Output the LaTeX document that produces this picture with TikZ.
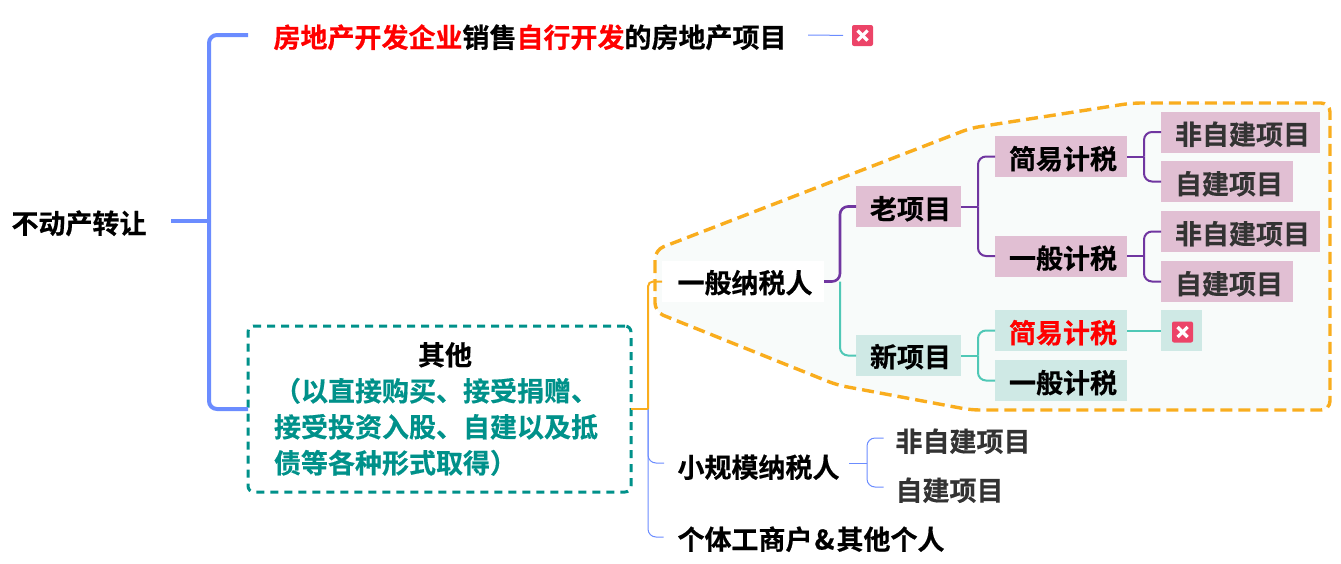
\documentclass[tikz,border=0pt]{standalone}
\usepackage{fontspec}
\setmainfont{Noto Sans CJK SC}[BoldFont={Noto Sans CJK SC Bold},BoldFeatures={FakeBold=0.5}]
\definecolor{rootblue}{HTML}{6B8CFF}
\definecolor{thinblue}{HTML}{6B8CFF}
\definecolor{purp}{HTML}{7036A0}
\definecolor{pinkbox}{HTML}{E1BFD3}
\definecolor{tealline}{HTML}{50C8B6}
\definecolor{tealbox}{HTML}{CFE9E5}
\definecolor{orangeln}{HTML}{F9AD1E}
\definecolor{blobfill}{HTML}{F8FBFA}
\definecolor{deepteal}{HTML}{00918A}
\definecolor{iconred}{HTML}{EC4468}
\definecolor{darktxt}{HTML}{333333}
\tikzset{
  lab/.style={inner sep=0pt,outer sep=0pt,align=center,font=\fontsize{27}{36}\selectfont\bfseries,text height=23pt,text depth=4pt},
  pinkn/.style={lab,fill=pinkbox,minimum height=41pt},
  tealn/.style={lab,fill=tealbox,minimum height=41pt},
  lnroot/.style={draw=rootblue,line width=4pt,rounded corners=8pt},
  lnpurp/.style={draw=purp,line width=2pt,rounded corners=8pt},
  lnteal/.style={draw=tealline,line width=2pt,rounded corners=8pt},
  lnorange/.style={draw=orangeln,line width=2pt,rounded corners=5pt},
  lnthin/.style={draw=thinblue,line width=1pt,rounded corners=8pt},
  iconbox/.style={fill=iconred,rounded corners=2pt,minimum width=21pt,minimum height=21pt,inner sep=0pt,outer sep=0pt},
  crossx/.style={draw=white,line width=3.2pt},
}
\newcommand{\dn}[2][3pt]{\hspace*{4pt}\raisebox{-#1}{#2}}
\begin{document}
\begin{tikzpicture}[x=1pt,y=-1pt]
\useasboundingbox (0,0) rectangle (1341,563);
% region
\draw[fill=blobfill,draw=orangeln,line width=3.4pt,dash pattern=on 12pt off 6pt,rounded corners=9pt]
  (655,281) -- (655,250) -- (971,128) -- (1132,103) -- (1330,103) -- (1330,410) -- (971,410) -- (837,385) -- (655,312) -- cycle;
% nodes
\node[lab,minimum width=184pt,minimum height=30pt] (root) at (79,221) {\raisebox{-3pt}{不动产转让}};
\node[lab,minimum width=560pt,minimum height=36pt] (top) at (528,35) {\dn{\textcolor{red}{房地产开发企业}销售\textcolor{red}{自行开发}的房地产项目}};
\node[iconbox] (icona) at (862.5,35.5) {};
\node[draw=deepteal,line width=3pt,dash pattern=on 8pt off 6pt,rounded corners=6pt,inner sep=0pt,outer sep=0pt,minimum width=383pt,minimum height=166pt,text width=383pt,align=left,font=\fontsize{27}{36}\selectfont\bfseries,text=deepteal] (other) at (439.5,409)
  {\raisebox{-2pt}{\hspace*{170pt}\textcolor{black}{其他}}\\\raisebox{-2pt}{\hspace*{26pt}（以直接购买、接受捐赠、}\\\raisebox{-2pt}{\hspace*{26pt}接受投资入股、自建以及抵}\\\raisebox{-2pt}{\hspace*{26pt}债等各种形式取得）}};
\node[lab,fill=white,minimum width=162pt,minimum height=41pt] (gen) at (743,281.5) {\dn[2pt]{一般纳税人}};
\node[pinkn,minimum width=105pt] (old) at (908.5,206.5) {\dn{老项目}};
\node[pinkn,minimum width=132pt] (s1) at (1061,156.5) {\dn{简易计税}};
\node[pinkn,minimum width=132pt] (g1) at (1061,256) {\dn{一般计税}};
\node[pinkn,minimum width=159pt,text=darktxt] (n1) at (1240.5,132) {\dn{非自建项目}};
\node[pinkn,minimum width=132pt,text=darktxt] (z1) at (1227,181.5) {\dn{自建项目}};
\node[pinkn,minimum width=159pt,text=darktxt] (n2) at (1240.5,231.5) {\dn{非自建项目}};
\node[pinkn,minimum width=132pt,text=darktxt] (z2) at (1227,281.5) {\dn{自建项目}};
\node[tealn,minimum width=105pt] (new) at (908.5,355.5) {\dn[2pt]{新项目}};
\node[tealn,minimum width=132pt,text=red] (s2) at (1061,330.5) {\dn{简易计税}};
\node[tealn,minimum width=132pt] (g2) at (1061,380.5) {\dn{一般计税}};
\node[fill=tealbox,inner sep=0pt,outer sep=0pt,minimum width=41pt,minimum height=41pt] (iconb) at (1181.5,330.5) {};
\node[iconbox] (iconc) at (1182.5,332) {};
\node[lab,minimum width=185pt,minimum height=30pt] (small) at (756.5,463) {\dn[5pt]{小规模纳税人}};
\node[lab,minimum width=146pt,minimum height=30pt,text=darktxt] (n3) at (957,438) {\hspace*{12pt}\raisebox{-4pt}{非自建项目}};
\node[lab,minimum width=119pt,minimum height=30pt,text=darktxt] (z3) at (943.5,487) {\hspace*{12pt}\raisebox{-4pt}{自建项目}};
\node[lab,minimum width=280pt,minimum height=30pt] (indiv) at (804,537) {\hspace*{14pt}\raisebox{-3pt}{个体工商户\kern2pt\&\kern2pt其他个人}};
% icon crosses
\draw[crossx] ([shift={(5.5,5.5)}]icona.north west) -- ([shift={(-5.5,-5.5)}]icona.south east);
\draw[crossx] ([shift={(5.5,-5.5)}]icona.south west) -- ([shift={(-5.5,5.5)}]icona.north east);
\draw[crossx] ([shift={(5.5,5.5)}]iconc.north west) -- ([shift={(-5.5,-5.5)}]iconc.south east);
\draw[crossx] ([shift={(5.5,-5.5)}]iconc.south west) -- ([shift={(-5.5,5.5)}]iconc.north east);
% connectors
\draw[lnroot] (root.east) -- ++(38,0);
\draw[lnroot] (root.east) ++(38,0) |- (top.west);
\draw[lnroot] (root.east) ++(38,0) |- (other.west);
\draw[draw=thinblue,line width=1pt,shorten >=9pt] (top.east) -- (icona.west);
\draw[lnthin] (other.east) ++(17,0) |- (small.west);
\draw[lnthin] (other.east) ++(17,0) |- (indiv.west);
\draw[lnorange] (other.east) -- ++(17,0);
\draw[lnorange,line cap=square] (other.east) ++(17,0) |- (gen.west);
\draw[lnthin] (small.east) -- ++(18,0);
\draw[lnthin] (small.east) ++(18,0) |- (n3.west);
\draw[lnthin] (small.east) ++(18,0) |- (z3.west);
\draw[lnteal] (gen.east) ++(16,0) |- (new.west);
\draw[lnpurp,line width=2.6pt] (gen.east) -- ++(16,0) |- (old.west);
\draw[lnpurp] (old.east) -- ++(17,0);
\draw[lnpurp] (old.east) ++(17,0) |- (s1.west);
\draw[lnpurp] (old.east) ++(17,0) |- (g1.west);
\draw[lnpurp] (s1.east) -- ++(17,0);
\draw[lnpurp] (s1.east) ++(17,0) |- (n1.west);
\draw[lnpurp] (s1.east) ++(17,0) |- (z1.west);
\draw[lnpurp] (g1.east) -- ++(17,0);
\draw[lnpurp] (g1.east) ++(17,0) |- (n2.west);
\draw[lnpurp] (g1.east) ++(17,0) |- (z2.west);
\draw[lnteal] (new.east) -- ++(17,0);
\draw[lnteal] (new.east) ++(17,0) |- (s2.west);
\draw[lnteal] (new.east) ++(17,0) |- (g2.west);
\draw[lnteal] (s2.east) -- (iconb.west);
\end{tikzpicture}
\end{document}
